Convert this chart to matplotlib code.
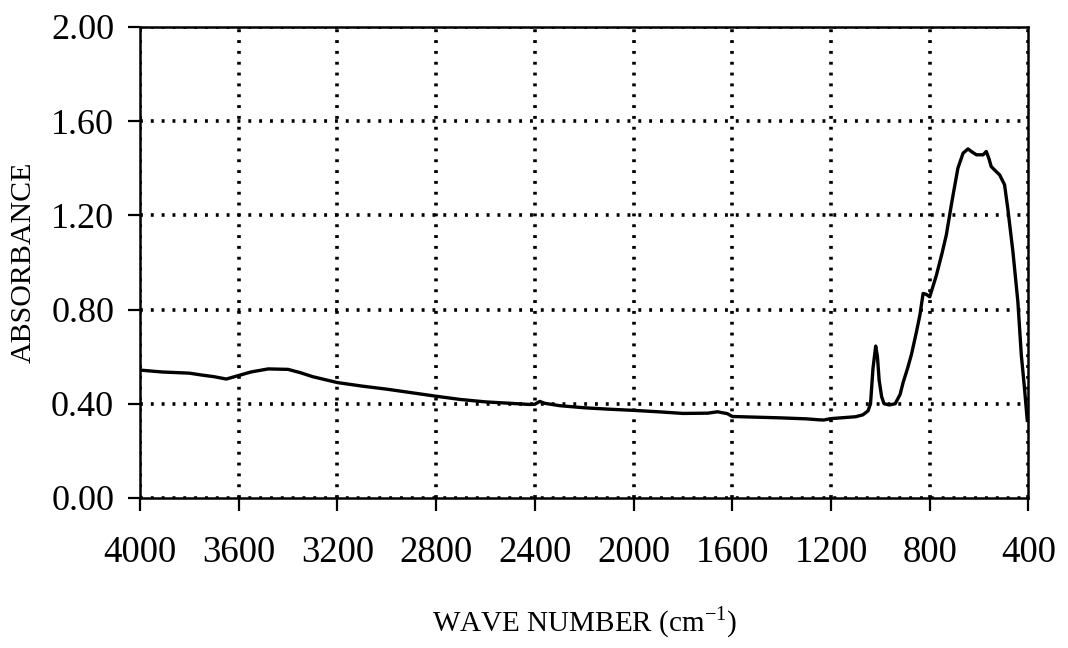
#!/usr/bin/env python3
"""IR absorbance spectrum, 4000-400 cm-1."""

import matplotlib as mpl
import matplotlib.pyplot as plt

WAVENUMBER = [
    4000, 3911, 3800, 3750, 3700, 3650, 3600, 3550, 3480, 3400, 3350, 3300,
    3200, 3100, 3000, 2900, 2800, 2700, 2600, 2500, 2420, 2400, 2380, 2360,
    2300, 2200, 2100, 2000, 1900, 1800, 1700, 1660, 1620, 1600, 1500, 1400,
    1300, 1250, 1230, 1200, 1100, 1071, 1050, 1040, 1030, 1019, 1012, 1005,
    995, 985, 964, 940, 920, 908, 890, 874, 855, 840, 827, 815, 800, 773,
    750, 733, 710, 686, 665, 645, 630, 611, 584, 571, 560, 551, 530, 517,
    497, 484, 463, 443, 429, 416, 405,
]
ABSORBANCE = [
    0.543, 0.535, 0.530, 0.522, 0.515, 0.505, 0.520, 0.535, 0.548, 0.546, 0.532, 0.515,
    0.490, 0.475, 0.462, 0.447, 0.432, 0.418, 0.408, 0.402, 0.397, 0.398, 0.410, 0.402,
    0.392, 0.383, 0.377, 0.372, 0.366, 0.359, 0.360, 0.366, 0.358, 0.346, 0.343, 0.340,
    0.336, 0.332, 0.331, 0.337, 0.345, 0.353, 0.370, 0.400, 0.550, 0.645, 0.600, 0.500,
    0.430, 0.400, 0.395, 0.400, 0.440, 0.490, 0.550, 0.610, 0.700, 0.776, 0.868, 0.865,
    0.854, 0.946, 1.040, 1.116, 1.260, 1.400, 1.464, 1.482, 1.470, 1.457, 1.457, 1.471,
    1.440, 1.407, 1.385, 1.372, 1.330, 1.230, 1.045, 0.833, 0.606, 0.464, 0.330,
]

X_TICKS = [4000, 3600, 3200, 2800, 2400, 2000, 1600, 1200, 800, 400]
Y_TICKS = [0.0, 0.4, 0.8, 1.2, 1.6, 2.0]

mpl.rcParams.update({
    "font.family": ["Liberation Serif", "DejaVu Serif"],
    "mathtext.fontset": "custom",
    "mathtext.rm": "Liberation Serif",
    "axes.linewidth": 1.8,
})

fig = plt.figure(figsize=(10.68, 6.48), dpi=100, facecolor="white")
ax = fig.add_axes([0.131, 0.2315, 0.832, 0.727])

ax.plot(WAVENUMBER, ABSORBANCE, color="black", linewidth=2.4, zorder=3)

ax.set_xlim(4000, 400)
ax.set_ylim(0.0, 2.0)
ax.set_xticks(X_TICKS)
ax.set_xticklabels([str(v) for v in X_TICKS])
ax.set_yticks(Y_TICKS)
ax.set_yticklabels([f"{v:.2f}" for v in Y_TICKS])

ax.grid(True, color="black", linestyle=(0, (0.8, 2.2)), linewidth=2.6)
ax.set_axisbelow(True)
for spine in ax.spines.values():
    spine.set_color("black")
    spine.set_linewidth(1.8)

ax.tick_params(axis="x", direction="out", length=9, width=1.6, pad=18,
               labelsize=26.5, colors="black")
ax.tick_params(axis="y", direction="out", length=8.5, width=1.6, pad=10,
               labelsize=26, colors="black")

ax.set_xlabel(r"WAVE NUMBER (cm$^{\mathregular{-1}}$)", fontsize=21, labelpad=25)
ax.set_ylabel("ABSORBANCE", fontsize=21.5, labelpad=10.5)

fig.savefig("out.png", dpi=100, facecolor="white")
